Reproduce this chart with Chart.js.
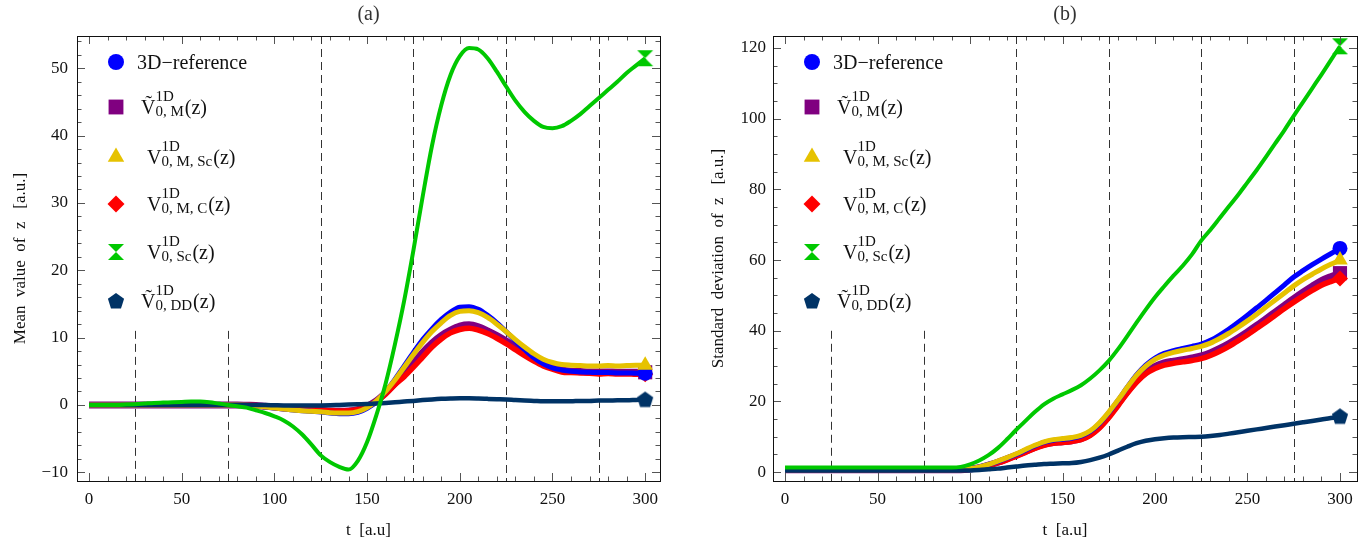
<!DOCTYPE html>
<html>
<head>
<meta charset="utf-8">
<script src="https://cdn.jsdelivr.net/npm/chart.js@4.4.1/dist/chart.umd.min.js"></script>
<style>
  body { margin: 0; background: #fff; width: 1371px; height: 545px; overflow: hidden; }
  canvas { position: absolute; top: 0; }
  #chartA { left: 0; }
  #chartB { left: 686px; }
</style>
</head>
<body>
<canvas id="chartA" width="686" height="545"></canvas>
<canvas id="chartB" width="685" height="545"></canvas>
<script>
// time samples (a.u.)
const T = [0,5,10,15,20,25,30,35,40,45,50,55,60,65,70,75,80,85,90,95,100,105,110,115,120,125,130,135,140,145,150,
  155,160,165,170,175,180,185,190,195,200,205,210,215,220,225,230,235,240,245,250,255,260,265,270,275,280,285,290,295,300];

// (a) mean value of z
const meanRef = [0,0,0,0,0,0,0,0,0,0,0,0,0,0,0,0,0,
  -0.05,-0.15,-0.3,-0.45,-0.6,-0.75,-0.85,-0.95,-1.05,-1.2,-1.3,-1.3,
  -1.1,-0.5,0.5,2.0,3.8,5.8,7.8,9.7,11.3,12.7,13.8,14.5,
  14.6,14.2,13.3,12.2,10.9,9.5,8.2,7.0,6.1,5.5,5.2,5.0,
  4.9,4.85,4.8,4.8,4.75,4.75,4.7,4.7];
const meanM = [0,0,0,0,0,0,0,0,0,0,0,0,0,0,0,0,0,
  -0.05,-0.1,-0.2,-0.3,-0.45,-0.55,-0.65,-0.75,-0.8,-0.9,-0.95,-0.9,
  -0.7,-0.2,0.6,1.8,3.2,4.6,6.2,7.8,9.2,10.3,11.1,11.7,
  11.9,11.6,11.0,10.3,9.5,8.6,7.7,6.9,6.1,5.6,5.2,5.0,
  4.95,4.9,4.9,4.9,4.85,4.85,4.85,4.85];
const meanMSc = [0,0,0,0,0,0,0,0,0,0,0,0,0,0,0,0,0,
  -0.05,-0.15,-0.3,-0.45,-0.6,-0.75,-0.85,-0.95,-1.0,-1.15,-1.2,-1.2,
  -1.0,-0.4,0.6,2.0,3.7,5.6,7.5,9.3,10.9,12.2,13.3,13.9,
  14.0,13.7,13.0,12.0,10.9,9.7,8.6,7.6,6.8,6.3,6.0,5.9,
  5.85,5.8,5.8,5.85,5.8,5.85,5.9,5.9];
const meanMC = [0,0,0,0,0,0,0,0,0,0,0,0,0,0,0,0,0,
  -0.05,-0.1,-0.2,-0.3,-0.45,-0.55,-0.65,-0.75,-0.8,-0.85,-0.9,-0.85,
  -0.65,-0.2,0.5,1.6,3.0,4.2,5.6,7.1,8.6,9.8,10.7,11.2,
  11.4,11.1,10.6,9.9,9.1,8.2,7.3,6.5,5.8,5.3,4.9,4.8,
  4.75,4.7,4.6,4.65,4.6,4.6,4.55,4.55];
const meanSc = [0,0,0,0,0.05,0.1,0.2,0.3,0.35,0.4,0.45,0.5,0.5,0.4,0.2,0,-0.2,
  -0.4,-0.8,-1.2,-1.7,-2.3,-3.2,-4.4,-5.9,-7.5,-8.5,-9.2,-9.6,
  -8.3,-5.5,-1.5,3.2,9.0,15.5,23,31,38.5,44.5,49,51.8,
  53,52.8,51.5,49.5,47.3,45.2,43.5,42.2,41.3,41.1,41.4,42.2,
  43.2,44.4,45.6,46.8,48,49.3,50.4,51.5];
const meanDD = [0,0,0,0,0,0,0,0,0,0,0,0,0,0,0,0,0,0,0,
  -0.02,-0.05,-0.08,-0.1,-0.1,-0.1,-0.08,-0.05,0,0.05,0.1,0.15,
  0.22,0.3,0.4,0.5,0.6,0.72,0.82,0.9,0.95,0.98,0.98,0.95,
  0.9,0.85,0.8,0.72,0.65,0.6,0.55,0.55,0.55,0.55,0.6,0.6,
  0.65,0.65,0.7,0.7,0.75,0.8];

// (b) standard deviation of z
const stdRef = [0.7,0.7,0.7,0.7,0.7,0.7,0.7,0.7,0.7,0.7,0.7,0.7,0.7,0.7,0.7,0.7,0.7,0.7,0.7,0.7,
  1.0,1.5,2.2,3.0,4.0,5.0,6.2,7.4,8.4,9.0,9.3,9.6,
  10.2,11.5,13.8,16.8,20.3,24.0,27.5,30.3,32.3,33.6,34.4,35.0,
  35.6,36.2,37.3,38.8,40.5,42.4,44.4,46.5,48.6,50.8,53.0,55.2,
  57.0,58.7,60.3,61.8,63.3];
const stdM = [0.7,0.7,0.7,0.7,0.7,0.7,0.7,0.7,0.7,0.7,0.7,0.7,0.7,0.7,0.7,0.7,0.7,0.7,0.7,0.7,
  0.9,1.3,2.0,2.8,3.8,4.8,5.9,7.0,7.9,8.4,8.6,8.9,
  9.5,10.8,13.0,16.0,19.4,22.8,25.9,28.3,29.9,30.9,31.4,31.8,
  32.3,32.9,33.8,35.0,36.4,38.0,39.7,41.5,43.4,45.3,47.2,49.1,
  50.9,52.6,54.2,55.3,56.3];
const stdMSc = [0.7,0.7,0.7,0.7,0.7,0.7,0.7,0.7,0.7,0.7,0.7,0.7,0.7,0.7,0.7,0.7,0.7,0.7,0.7,0.7,
  1.0,1.5,2.2,3.1,4.1,5.2,6.4,7.6,8.6,9.2,9.5,9.8,
  10.4,11.7,14.0,17.0,20.4,24.0,27.4,30.0,31.9,33.1,33.9,34.5,
  35.0,35.6,36.5,37.8,39.3,41.0,42.8,44.7,46.7,48.7,50.7,52.7,
  54.5,56.0,57.5,58.8,60.0];
const stdMC = [0.7,0.7,0.7,0.7,0.7,0.7,0.7,0.7,0.7,0.7,0.7,0.7,0.7,0.7,0.7,0.7,0.7,0.7,0.7,0.7,
  0.85,1.2,1.8,2.6,3.5,4.5,5.6,6.7,7.6,8.2,8.4,8.7,
  9.2,10.4,12.5,15.4,18.8,22.3,25.4,27.8,29.3,30.3,30.8,31.2,
  31.6,32.1,33.0,34.2,35.6,37.2,38.9,40.7,42.5,44.4,46.3,48.1,
  49.8,51.4,52.9,53.9,54.8];
const stdSc = [1.3,1.3,1.3,1.3,1.3,1.3,1.3,1.3,1.3,1.3,1.3,1.3,1.3,1.3,1.3,1.3,1.3,1.3,1.3,
  1.5,2.2,3.3,4.8,6.8,9.3,12.0,14.5,17.0,19.2,20.8,22.0,
  23.2,24.6,26.5,28.8,31.5,34.8,38.5,42.3,46.0,49.5,52.6,55.6,
  58.4,61.6,65.5,68.6,71.9,75.2,78.5,82,85.5,89.2,93,96.8,
  100.8,104.7,108.6,112.5,116.5,120.5];
const stdDD = [0.5,0.5,0.5,0.5,0.5,0.5,0.5,0.5,0.5,0.5,0.5,0.5,0.5,0.5,0.5,0.5,0.5,0.5,0.5,0.5,0.5,
  0.6,0.8,1.0,1.3,1.6,1.9,2.1,2.3,2.4,2.5,2.6,2.9,
  3.4,4.1,5.0,6.1,7.2,8.2,8.9,9.3,9.6,9.8,9.9,9.95,
  10.0,10.2,10.5,10.9,11.3,11.7,12.1,12.5,12.9,13.3,13.7,14.1,
  14.5,14.9,15.3,15.8];

// axis ticks and guide lines
const timeTicks = [0,50,100,150,200,250,300];
const meanTicks = [-10,0,10,20,30,40,50];
const stdTicks = [0,20,40,60,80,100,120];
const guideTimes = [25,75,125,175,225,275];
const guideTopsA = [11,11,null,null,null,null];
const guideTopsB = [40,40,null,null,null,null];

const legendRows = [
  {main: '3D\u2212reference'},
  {main: '\u1E7C', sup: '1D', sub: '0, M', tail: '(z)'},
  {main: 'V', sup: '1D', sub: '0, M, Sc', tail: '(z)'},
  {main: 'V', sup: '1D', sub: '0, M, C', tail: '(z)'},
  {main: 'V', sup: '1D', sub: '0, Sc', tail: '(z)'},
  {main: '\u1E7C', sup: '1D', sub: '0, DD', tail: '(z)'}
];

const SERIF = "'Liberation Serif', 'DejaVu Serif', serif";
const BLUE = '#0000ff', PURPLE = '#800080', GOLD = '#e6c200', RED = '#ff0000', GREEN = '#00c800', NAVY = '#003366';

function markerCanvas(kind, color) {
  const c = document.createElement('canvas');
  c.width = 20; c.height = 20;
  const g = c.getContext('2d');
  g.fillStyle = color;
  g.beginPath();
  if (kind === 'hourglass') {
    g.moveTo(2, 2); g.lineTo(18, 2); g.lineTo(10, 10); g.closePath();
    g.moveTo(2, 18); g.lineTo(18, 18); g.lineTo(10, 10); g.closePath();
  } else {
    for (let k = 0; k < 5; k++) {
      const ang = -Math.PI / 2 + k * 2 * Math.PI / 5;
      const px = 10 + 8.5 * Math.cos(ang), py = 10.5 + 8.5 * Math.sin(ang);
      if (k === 0) g.moveTo(px, py); else g.lineTo(px, py);
    }
    g.closePath();
  }
  g.fill();
  return c;
}
const hourglass = markerCanvas('hourglass', GREEN);
const pentagon = markerCanvas('pentagon', NAVY);

// legend order: ref, M, M Sc, M C, Sc, DD
const styles = ['circle', 'rect', 'triangle', 'rectRot', hourglass, pentagon];
const colors = [BLUE, PURPLE, GOLD, RED, GREEN, NAVY];
const radii = [8, 10.5, 9.5, 8.5, 9, 9];
const legendY = [26, 71, 121, 168, 216, 265];

function minus(v) { return v < 0 ? '\u2212' + Math.abs(v) : String(v); }

function drawLegend(chart) {
  const ctx = chart.ctx, a = chart.chartArea;
  const mx = a.left + 39;
  ctx.save();
  ctx.textAlign = 'left';
  ctx.textBaseline = 'alphabetic';
  legendRows.forEach((row, i) => {
    const y = a.top + legendY[i];
    ctx.fillStyle = colors[i];
    Chart.helpers.drawPoint(ctx, {pointStyle: styles[i], radius: radii[i], rotation: 0, borderWidth: 0}, mx, y);
    ctx.fillStyle = '#111';
    ctx.font = '20px ' + SERIF;
    if (!row.sup) {
      ctx.fillText(row.main, mx + 21, y + 7);
      return;
    }
    let x = mx + (row.main === 'V' ? 31 : 25);
    ctx.fillText(row.main, x, y + 7);
    x += ctx.measureText(row.main).width;
    ctx.font = '15px ' + SERIF;
    ctx.fillText(row.sup, x, y - 6);
    ctx.fillText(row.sub, x, y + 9);
    const w = Math.max(ctx.measureText(row.sup).width, ctx.measureText(row.sub).width);
    ctx.font = '20px ' + SERIF;
    ctx.fillText(row.tail, x + w + 1, y + 7);
  });
  ctx.restore();
}

const framePlugin = {
  id: 'frame',
  beforeDatasetsDraw(chart, args, opts) {
    const {ctx, chartArea: a} = chart;
    const x = chart.scales.x, y = chart.scales.y;
    ctx.save();
    ctx.strokeStyle = '#333';
    ctx.lineWidth = 1;
    ctx.setLineDash([8, 5]);
    guideTimes.forEach((t, i) => {
      const px = Math.round(x.getPixelForValue(t)) + 0.5;
      const top = opts.tops[i] == null ? a.top : y.getPixelForValue(opts.tops[i]);
      ctx.beginPath(); ctx.moveTo(px, top); ctx.lineTo(px, a.bottom); ctx.stroke();
    });
    ctx.restore();
  },
  afterDatasetsDraw(chart, args, opts) {
    const {ctx, chartArea: a} = chart;
    const x = chart.scales.x, y = chart.scales.y;
    ctx.save();
    ctx.strokeStyle = '#555';
    ctx.lineWidth = 1;
    // x ticks, bottom and top
    for (let t = 0; t <= 300; t += 10) {
      const px = Math.round(x.getPixelForValue(t)) + 0.5;
      const len = t % 50 === 0 ? 8 : 4.5;
      ctx.beginPath();
      ctx.moveTo(px, a.bottom); ctx.lineTo(px, a.bottom - len);
      ctx.moveTo(px, a.top); ctx.lineTo(px, a.top + len);
      ctx.stroke();
    }
    // y ticks, left and right
    for (let v = opts.yMin; v <= opts.yMax; v += opts.yMinor) {
      const py = Math.round(y.getPixelForValue(v)) + 0.5;
      const len = v % opts.yMajor === 0 ? 8 : 4.5;
      ctx.beginPath();
      ctx.moveTo(a.left, py); ctx.lineTo(a.left + len, py);
      ctx.moveTo(a.right, py); ctx.lineTo(a.right - len, py);
      ctx.stroke();
    }
    ctx.strokeStyle = '#111';
    ctx.strokeRect(Math.round(a.left) + 0.5, Math.round(a.top) + 0.5,
      Math.round(a.right - a.left), Math.round(a.bottom - a.top));
    ctx.restore();
  },
  afterDraw(chart, args, opts) {
    const {ctx, chartArea: a} = chart;
    ctx.save();
    ctx.fillStyle = '#333';
    ctx.font = '20px ' + SERIF;
    ctx.textAlign = 'center';
    ctx.textBaseline = 'middle';
    ctx.fillText(opts.label, (a.left + a.right) / 2, 15);
    ctx.restore();
    drawLegend(chart);
  }
};

function pts(vals) { return vals.map((v, i) => ({x: T[i], y: v})); }

function dataset(vals, color, width, style, radius, order) {
  return {
    data: pts(vals),
    borderColor: color,
    backgroundColor: color,
    borderWidth: width,
    cubicInterpolationMode: 'monotone',
    pointStyle: style,
    pointRadius: ctx => ctx.dataIndex === T.length - 1 ? radius : 0,
    pointBackgroundColor: color,
    pointBorderWidth: 0,
    order: order
  };
}

function makeChart(id, series, cfg) {
  return new Chart(document.getElementById(id), {
    type: 'line',
    data: {
      datasets: [
        dataset(series[0], BLUE, 5, 'circle', 7.5, 3),
        dataset(series[1], PURPLE, 7, 'rect', 10, 5),
        dataset(series[2], GOLD, 5, 'triangle', 9, 2),
        dataset(series[3], RED, 5.5, 'rectRot', 8, 4),
        dataset(series[4], GREEN, 4, hourglass, 9, 0),
        dataset(series[5], NAVY, 4.5, pentagon, 9, 1)
      ]
    },
    options: {
      responsive: false,
      animation: false,
      events: [],
      layout: {padding: {top: 36, right: cfg.padRight, left: 0, bottom: 0}},
      plugins: {
        legend: {display: false},
        tooltip: {enabled: false},
        frame: {label: cfg.label, tops: cfg.tops, yMin: cfg.yMin, yMax: cfg.yMax,
                yMinor: cfg.yMinor, yMajor: cfg.yMajor}
      },
      scales: {
        x: {
          type: 'linear',
          min: -6.5, max: cfg.xMax,
          grid: {display: false, drawTicks: false},
          border: {display: false},
          afterBuildTicks: s => { s.ticks = timeTicks.map(v => ({value: v})); },
          afterFit: s => { s.height = 64; },
          ticks: {color: '#111', font: {family: SERIF, size: 17}, padding: 8, maxRotation: 0},
          title: {display: true, text: 't  [a.u]', color: '#111',
                  font: {family: SERIF, size: 17}, padding: {top: 4, bottom: 4}}
        },
        y: {
          min: cfg.min, max: cfg.max,
          grid: {display: false, drawTicks: false},
          border: {display: false},
          afterBuildTicks: s => { s.ticks = cfg.ticks.map(v => ({value: v})); },
          afterFit: s => { s.width = cfg.yWidth; },
          ticks: {color: '#111', font: {family: SERIF, size: 17}, padding: cfg.tickPad, callback: minus},
          title: {display: true, text: cfg.yTitle, color: '#111',
                  font: {family: SERIF, size: 17}, padding: {top: cfg.titlePad, bottom: cfg.titlePad}}
        }
      }
    },
    plugins: [framePlugin]
  });
}

makeChart('chartA', [meanRef, meanM, meanMSc, meanMC, meanSc, meanDD], {
  label: '(a)', tops: guideTopsA, min: -11.3, max: 54.8, ticks: meanTicks,
  yMin: -10, yMax: 54, yMinor: 2, yMajor: 10, yWidth: 77, tickPad: 9, titlePad: 10,
  padRight: 26, xMax: 308, yTitle: 'Mean  value  of  z   [a.u.]'
});
makeChart('chartB', [stdRef, stdM, stdMSc, stdMC, stdSc, stdDD], {
  label: '(b)', tops: guideTopsB, min: -2.5, max: 123.4, ticks: stdTicks,
  yMin: 0, yMax: 120, yMinor: 5, yMajor: 20, yWidth: 87, tickPad: 7, titlePad: 22,
  padRight: 14, xMax: 309.2, yTitle: 'Standard  deviation  of  z   [a.u.]'
});
</script>
</body>
</html>
